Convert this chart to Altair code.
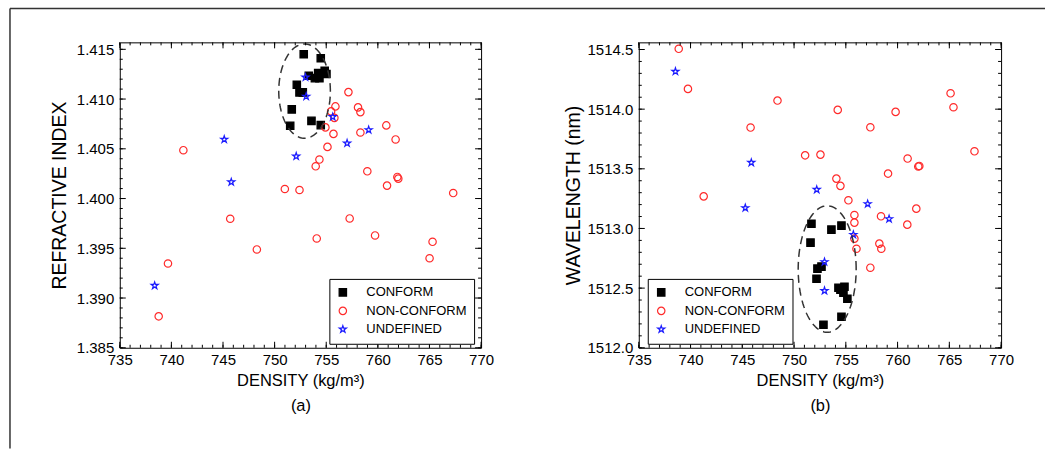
import altair as alt
import numpy as np
import pandas as pd

FONT = "Liberation Sans"
CLASSES = ["CONFORM", "NON-CONFORM", "UNDEFINED"]
STAR = "M0,-1L0.2245,-0.309L0.9511,-0.309L0.3633,0.118L0.5878,0.809L0,0.382L-0.5878,0.809L-0.3633,0.118L-0.9511,-0.309L-0.2245,-0.309Z"

# ---------------- Panel (a): density vs refractive index ----------------
a_conf_x = [752.82, 754.47, 753.31, 754.22, 754.34, 754.85, 755.02, 753.9, 752.15, 752.41, 752.73, 751.66, 751.51, 753.57, 754.47]
a_conf_y = [1.4145, 1.4141, 1.41235, 1.41262, 1.41209, 1.41285, 1.41252, 1.4121, 1.41144, 1.41067, 1.41067, 1.40896, 1.40731, 1.40781, 1.40738]

a_non_x = [741.16, 754.92, 755.12, 754.34, 753.98, 750.99, 752.41, 745.70, 748.28, 754.08, 739.67, 738.77,
           755.89, 755.47, 755.79, 758.08, 758.31, 755.70, 758.31, 760.82, 761.72, 758.98, 760.89, 761.89,
           761.98, 767.30, 757.27, 759.73, 765.30, 765.01, 757.15]
a_non_y = [1.40486, 1.40715, 1.40519, 1.40392, 1.40324, 1.40096, 1.40086, 1.39797, 1.39488, 1.39599, 1.39347, 1.38816,
           1.40926, 1.40876, 1.40811, 1.40916, 1.40869, 1.40650, 1.40664, 1.40735, 1.40594, 1.40274, 1.40130, 1.40217,
           1.40200, 1.40055, 1.39800, 1.39629, 1.39565, 1.39400, 1.41070]

a_und_x = [752.99, 753.06, 745.12, 745.80, 752.09, 738.38, 755.63, 759.11, 757.02]
a_und_y = [1.41219, 1.41027, 1.40594, 1.40166, 1.40425, 1.39125, 1.40821, 1.40690, 1.40556]

# ---------------- Panel (b): density vs wavelength ----------------
b_conf_x = [751.68, 751.59, 752.26, 752.65, 752.17, 753.61, 754.58, 754.29, 754.87, 754.77, 755.15, 754.58, 752.84, 754.48]
b_conf_y = [1513.040, 1512.881, 1512.663, 1512.680, 1512.579, 1512.990, 1513.024, 1512.503, 1512.512, 1512.461,
            1512.411, 1512.260, 1512.193, 1512.487]

b_non_x = [738.86, 739.75, 748.40, 745.80, 751.07, 741.27, 765.12, 765.40, 754.22, 759.81, 757.37, 752.55, 767.43,
           760.97, 762.00, 762.10, 754.09, 754.48, 759.08, 755.25, 761.81, 755.83, 758.40, 755.83, 755.83, 756.03,
           758.24, 758.43, 760.94, 757.37]
b_non_y = [1514.506, 1514.170, 1514.072, 1513.846, 1513.613, 1513.269, 1514.133, 1514.016, 1513.994, 1513.977,
           1513.848, 1513.619, 1513.647, 1513.586, 1513.519, 1513.524, 1513.418, 1513.357, 1513.460, 1513.236,
           1513.166, 1513.113, 1513.102, 1513.049, 1512.915, 1512.830, 1512.873, 1512.830, 1513.032, 1512.671]

b_und_x = [738.54, 745.87, 745.29, 752.19, 757.11, 759.18, 755.73, 752.94, 752.94]
b_und_y = [1514.316, 1513.552, 1513.172, 1513.326, 1513.206, 1513.080, 1512.948, 1512.72, 1512.478]

# dashed ellipses: center x, center y, radius x, radius y
a_ell = [752.9, 1.4108, 2.5, 0.00474]
b_ell = [753.2, 1512.66, 2.8, 0.53]

# axis ticks
x_major = [735, 740, 745, 750, 755, 760, 765, 770]
a_y_major = [1.385, 1.390, 1.395, 1.400, 1.405, 1.410, 1.415]
b_y_major = [1512.0, 1512.5, 1513.0, 1513.5, 1514.0, 1514.5]
x_minor = list(range(735, 771))
a_y_minor = [round(1.385 + 0.001 * i, 4) for i in range(31)]
b_y_minor = [round(1512.0 + 0.1 * i, 2) for i in range(26)]

W1, W2, H = 362, 363, 306


def make_df(cx, cy, nx, ny, ux, uy):
    return pd.DataFrame({
        "density": cx + nx + ux,
        "val": cy + ny + uy,
        "cls": ["CONFORM"] * len(cx) + ["NON-CONFORM"] * len(nx) + ["UNDEFINED"] * len(ux),
    })


def panel(df, ydom, ymaj, ymin, yfmt, ytitle, sub, ell, W, legx, ytitlex, frame=False):
    xs = alt.Scale(domain=[735, 770], nice=False, zero=False)
    ys = alt.Scale(domain=ydom, nice=False, zero=False)
    xax = alt.Axis(
        values=x_major, title=["DENSITY (kg/m³)", sub], ticks=False, domain=False, grid=False,
        labelFlush=False, labelOverlap=False, labelPadding=5, labelFontSize=15, labelFont=FONT,
        labelColor="black", titleFontSize=16.5, titleFont=FONT, titleFontWeight="normal",
        titleColor="black", titlePadding=5, titleLineHeight=25)
    yax = alt.Axis(
        values=ymaj, format=yfmt, title=ytitle, ticks=False, domain=False, grid=False,
        labelFlush=False, labelOverlap=False, labelPadding=6, labelFontSize=15, labelFont=FONT,
        labelColor="black", titleFontSize=19.5, titleFont=FONT, titleFontWeight="normal",
        titleColor="black", titleX=ytitlex, titleBaseline="middle")
    leg = alt.Legend(title=None, orient="none", legendX=legx, legendY=237, strokeColor="black",
                     fillColor="white", padding=7, rowPadding=4.5, labelFontSize=13, labelFont=FONT,
                     labelColor="black", symbolSize=55, symbolStrokeWidth=1.2, labelOffset=17)
    pts = alt.Chart(df).mark_point(size=55, strokeWidth=1.2, opacity=1).encode(
        x=alt.X("density:Q", scale=xs, axis=xax),
        y=alt.Y("val:Q", scale=ys, axis=yax),
        shape=alt.Shape("cls:N", scale=alt.Scale(domain=CLASSES, range=["square", "circle", STAR]), legend=leg),
        stroke=alt.Stroke("cls:N", scale=alt.Scale(domain=CLASSES, range=["black", "#ff2a2a", "#1a1aff"]), legend=leg),
        fill=alt.Fill("cls:N", scale=alt.Scale(domain=CLASSES, range=["black", "transparent", "transparent"]), legend=leg),
    )
    t = np.linspace(0, 2 * np.pi, 121)
    edf = pd.DataFrame({"density": ell[0] + ell[2] * np.cos(t), "val": ell[1] + ell[3] * np.sin(t), "i": range(121)})
    ellipse = alt.Chart(edf).mark_line(color="#333333", strokeWidth=1.5, strokeDash=[8, 5]).encode(
        x=alt.X("density:Q", scale=xs, axis=xax), y=alt.Y("val:Q", scale=ys, axis=yax), order="i:Q")
    layers = [pts, ellipse]
    for vals, L in [(x_major, 6), (x_minor, 3)]:
        b = alt.Chart(pd.DataFrame({"density": vals})).mark_rule(color="black", strokeWidth=1)
        layers.append(b.encode(x=alt.X("density:Q", scale=xs, axis=xax), y=alt.value(H), y2=alt.value(H - L)))
        layers.append(b.encode(x=alt.X("density:Q", scale=xs, axis=xax), y=alt.value(0), y2=alt.value(L)))
    for vals, L in [(ymaj, 6), (ymin, 3)]:
        b = alt.Chart(pd.DataFrame({"val": vals})).mark_rule(color="black", strokeWidth=1)
        layers.append(b.encode(y=alt.Y("val:Q", scale=ys, axis=yax), x=alt.value(0), x2=alt.value(L)))
        layers.append(b.encode(y=alt.Y("val:Q", scale=ys, axis=yax), x=alt.value(W), x2=alt.value(W - L)))
    if frame:
        one = alt.Chart(pd.DataFrame({"a": [0]}))
        layers.append(one.mark_rule(color="#333333", strokeWidth=1.5).encode(
            x=alt.value(-110), x2=alt.value(927), y=alt.value(-34)))
        layers.append(one.mark_rule(color="#333333", strokeWidth=1.5).encode(
            x=alt.value(-110), y=alt.value(-34), y2=alt.value(407)))
    return alt.layer(*layers).properties(width=W, height=H)


left = panel(make_df(a_conf_x, a_conf_y, a_non_x, a_non_y, a_und_x, a_und_y),
             [1.385, 1.4157], a_y_major, a_y_minor, ".3f", "REFRACTIVE INDEX", "(a)", a_ell, W1, 210, -60,
             frame=True)
right = panel(make_df(b_conf_x, b_conf_y, b_non_x, b_non_y, b_und_x, b_und_y),
              [1512.0, 1514.56], b_y_major, b_y_minor, ".1f", "WAVELENGTH (nm)", "(b)", b_ell, W2, 9, -65)

chart = alt.hconcat(left, right, spacing=158, bounds="flush").resolve_scale(
    shape="independent", stroke="independent", fill="independent", x="independent", y="independent"
).resolve_legend(shape="independent", stroke="independent", fill="independent").properties(
    padding={"left": 8, "top": 6, "right": 0, "bottom": 0}, background="white"
).configure_view(stroke="black", strokeWidth=1)

chart.save("out.html", embed_options={"renderer": "svg", "actions": False})
